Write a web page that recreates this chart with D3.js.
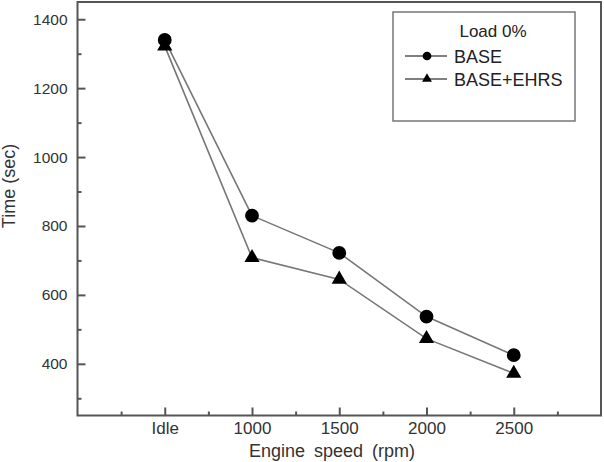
<!DOCTYPE html>
<html lang="en">
<head><meta charset="utf-8">
<title>Time vs engine speed</title>
<style>
body { margin: 0; background: #fff; font-family: "Liberation Sans", Arial, sans-serif; }
.axis path, .axis line { stroke: #555; }
.axis text { fill: #333; font-family: "Liberation Sans", Arial, sans-serif; }
.y-axis text { font-size: 15.5px; }
.x-axis text { font-size: 17px; }
</style>
</head>
<body>
<svg></svg>
<script src="https://d3js.org/d3.v7.min.js"></script>
<script>

var categories = ["Idle", "1000", "1500", "2000", "2500"];
var baseTime = [1340, 830, 722, 537, 425];
var ehrsTime = [1322, 708, 645, 473, 372];
var yTicks = [400, 600, 800, 1000, 1200, 1400];
var yMinor = [300, 500, 700, 900, 1100, 1300];

var width = 604, height = 462;
var plotLeft = 77.5, plotRight = 601, plotTop = 2, plotBottom = 415.5;

var svg = d3.select("svg").attr("width", width).attr("height", height);

var x = d3.scaleLinear().domain([-1, 5]).range([plotLeft, plotRight]);
var y = d3.scaleLinear().domain([250, 1450]).range([plotBottom, plotTop]);

// frame
svg.append("rect")
    .attr("x", plotLeft).attr("y", plotTop)
    .attr("width", plotRight - plotLeft).attr("height", plotBottom - plotTop)
    .attr("fill", "none").attr("stroke", "#555").attr("stroke-width", 2);

function styleAxis(g) {
  g.select(".domain").remove();
  g.selectAll("line").attr("stroke-width", 2);
}

// y axis
svg.append("g").attr("class", "axis y-axis")
    .attr("transform", "translate(" + plotLeft + ",0)")
    .call(d3.axisLeft(y).tickValues(yTicks).tickSize(-8).tickPadding(10).tickFormat(d3.format("d")))
    .call(styleAxis);
svg.append("g").attr("class", "axis")
    .attr("transform", "translate(" + plotLeft + ",0)")
    .call(d3.axisLeft(y).tickValues(yMinor).tickSize(-4).tickFormat(""))
    .call(styleAxis);

// x axis
svg.append("g").attr("class", "axis x-axis")
    .attr("transform", "translate(0," + plotBottom + ")")
    .call(d3.axisBottom(x).tickValues(d3.range(categories.length)).tickSize(-8).tickPadding(6)
        .tickFormat(function(i) { return categories[i]; }))
    .call(styleAxis);
svg.append("g").attr("class", "axis")
    .attr("transform", "translate(0," + plotBottom + ")")
    .call(d3.axisBottom(x).tickValues(d3.range(-0.5, categories.length, 1)).tickSize(-4).tickFormat(""))
    .call(styleAxis);

// axis titles
svg.append("text")
    .attr("x", 332).attr("y", 457)
    .attr("text-anchor", "middle")
    .attr("font-size", 18).attr("fill", "#333")
    .attr("word-spacing", 4)
    .text("Engine speed (rpm)");
svg.append("text")
    .attr("transform", "translate(15,186) rotate(-90)")
    .attr("text-anchor", "middle")
    .attr("font-size", 18).attr("fill", "#333")
    .text("Time (sec)");

// series
var series = [
  {name: "BASE", values: baseTime, symbol: d3.symbolCircle, size: 150, legendSize: 60},
  {name: "BASE+EHRS", values: ehrsTime, symbol: d3.symbolTriangle, size: 100, legendSize: 42}
];

var line = d3.line()
    .x(function(d, i) { return x(i); })
    .y(function(d) { return y(d); });

series.forEach(function(s) {
  svg.append("path")
      .datum(s.values)
      .attr("d", line)
      .attr("fill", "none")
      .attr("stroke", "#777")
      .attr("stroke-width", 1.6);
  svg.selectAll(null)
      .data(s.values)
      .enter().append("path")
      .attr("transform", function(d, i) { return "translate(" + x(i) + "," + y(d) + ")"; })
      .attr("d", d3.symbol().type(s.symbol).size(s.size))
      .attr("fill", "#000");
});

// legend
var legend = svg.append("g");
legend.append("rect")
    .attr("x", 393).attr("y", 12).attr("width", 182).attr("height", 109)
    .attr("fill", "#fff").attr("stroke", "#777").attr("stroke-width", 1.5);
legend.append("text")
    .attr("x", 493).attr("y", 37)
    .attr("text-anchor", "middle").attr("font-size", 17).attr("fill", "#222")
    .text("Load 0%");
series.forEach(function(s, k) {
  var ly = 56 + k * 23;
  legend.append("line")
      .attr("x1", 405).attr("x2", 447).attr("y1", ly).attr("y2", ly)
      .attr("stroke", "#555").attr("stroke-width", 1.5);
  legend.append("path")
      .attr("transform", "translate(427," + ly + ")")
      .attr("d", d3.symbol().type(s.symbol).size(s.legendSize))
      .attr("fill", "#000");
  legend.append("text")
      .attr("x", 454).attr("y", ly + 6.5)
      .attr("font-size", 18).attr("fill", "#222")
      .text(s.name);
});

</script>
</body>
</html>
